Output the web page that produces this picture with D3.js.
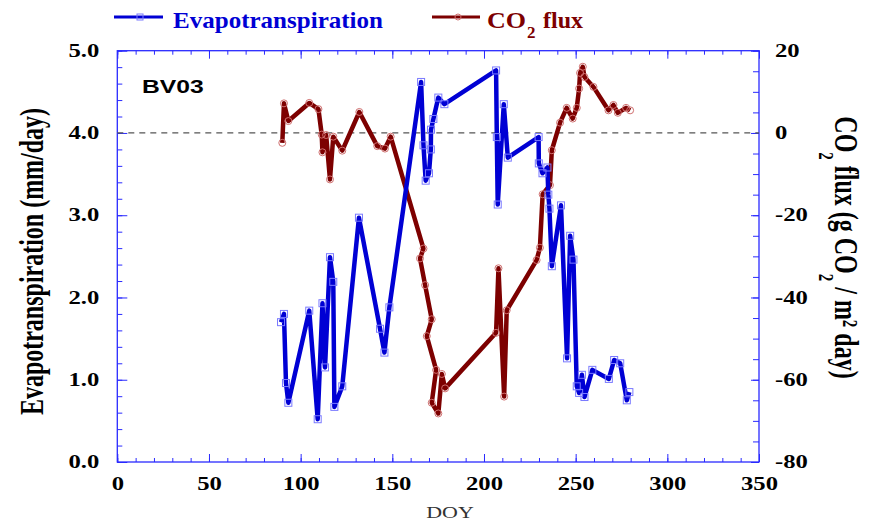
<!DOCTYPE html>
<html lang="en">
<head>
<meta charset="utf-8">
<title>BV03 evapotranspiration and CO2 flux</title>
<script src="https://d3js.org/d3.v7.min.js"></script>
<style>
  body { margin: 0; background: #fff; }
  .tick text { font-family: "Times New Roman", "Liberation Serif", serif; font-weight: bold; font-size: 18px; fill: #000; }
</style>
</head>
<body>
<script>
// ---- data ----
var doyET = [89.3, 90.9, 92, 93.3, 104.7, 109.3, 111.9, 113.3, 116, 117.8, 118.4, 122.7, 131.8,
             143.3, 145.7, 148.4, 165.7, 167, 168.2, 170, 171, 171.1, 172.4, 175.1, 178.4,
             206.6, 207, 207.5, 210.8, 213, 229.8, 229.9, 231.9, 234.6, 235.1, 235.7, 237,
             242, 245.3, 247, 248.8, 250.6, 251.9, 253.4, 254.8, 259.1, 268.1, 271, 274.3, 277.9, 279.3];
var et    = [1.70, 1.80, 0.96, 0.72, 1.84, 0.52, 1.93, 1.15, 2.49, 2.19, 0.67, 0.92, 2.97,
             1.62, 1.33, 1.88, 4.62, 3.85, 3.42, 3.51, 3.80, 4.04, 4.17, 4.43, 4.35,
             4.76, 3.95, 3.13, 4.35, 3.70, 3.95, 3.63, 3.51, 3.58, 3.25, 3.08, 2.38,
             3.12, 1.26, 2.75, 2.46, 0.92, 0.84, 1.06, 0.79, 1.12, 1.01, 1.24, 1.20, 0.75, 0.85];

var doyCO2 = [90, 90.9, 93.3, 104.7, 109.7, 111.5, 111.9, 113.9, 116, 117.8, 122.7, 132, 141.8, 146, 149.1,
              167, 165.1, 167.9, 171.5, 168.8, 173.9, 171.5, 175.1, 177, 178.8,
              206.6, 207.9, 211, 212.4, 228.7, 230.5, 232, 236, 237, 241.5, 245.1, 248.4, 250.6,
              251.9, 252.4, 253.9, 254.8, 259.7, 267.9, 270.6, 273, 277.5, 279.7];
var co2    = [-2.4, 7.2, 2.9, 7.3, 5.8, -0.4, -4.7, -0.5, -11.3, -0.9, -4.3, 5.1, -3.2, -3.8, -0.9,
              -28.1, -30.5, -37, -45.3, -49.4, -57.6, -65.6, -68.2, -58.6, -62.1,
              -48.6, -32.9, -64.1, -43.1, -30.9, -27.9, -14.9, -12.7, -4.2, 2.5, 6.1, 3.5, 6.1,
              10.8, 14.6, 16.1, 13.6, 11.2, 5.5, 6.8, 4.9, 6.1, 5.5];

var xTicks  = [0, 50, 100, 150, 200, 250, 300, 350];
var etTicks = [0, 1, 2, 3, 4, 5];
var coTicks = [-80, -60, -40, -20, 0, 20];

var w = 885, h = 520;
var plotLeft = 117.3, plotRight = 759, plotTop = 50.7, plotBottom = 462;
var stretch = 1.37; // the picture is wider than it is tall, glyphs look stretched
var serif = '"Times New Roman", "Liberation Serif", serif';
var blue = "#0000d4", red = "#7d0000", frame = "#2a2aff";

var svg = d3.select("body").append("svg")
    .attr("width", w).attr("height", h);

var xScale = d3.scaleLinear().domain([0, 350]).range([plotLeft, plotRight]);
var yET = d3.scaleLinear().domain([0, 5]).range([plotBottom, plotTop]);
var yCO = d3.scaleLinear().domain([-80, 20]).range([plotBottom, plotTop]);

// stretch text horizontally like the picture
function widen(sel) {
    sel.each(function() {
        var len = this.getComputedTextLength();
        d3.select(this).attr("textLength", len * stretch).attr("lengthAdjust", "spacingAndGlyphs");
    });
}

// ticks point inward
function axisAt(axis, tr) {
    var g = svg.append("g").attr("transform", tr).call(axis);
    g.select(".domain").remove();
    g.selectAll("line").attr("stroke", frame);
    return g;
}
var atBottom = "translate(0," + plotBottom + ")", atTop = "translate(0," + plotTop + ")";
axisAt(d3.axisBottom(xScale).tickValues(d3.range(0, 351, 10)).tickSizeInner(-4).tickSizeOuter(0).tickFormat(""), atBottom);
axisAt(d3.axisTop(xScale).tickValues(d3.range(0, 351, 10)).tickSizeInner(-4).tickSizeOuter(0).tickFormat(""), atTop);
axisAt(d3.axisTop(xScale).tickValues(xTicks).tickSizeInner(-8).tickSizeOuter(0).tickFormat(""), atTop);
axisAt(d3.axisLeft(yET).tickValues(d3.range(0, 5.01, 0.2)).tickSizeInner(-5).tickSizeOuter(0).tickFormat(""), "translate(" + plotLeft + ",0)");
axisAt(d3.axisRight(yCO).tickValues(d3.range(-80, 21, 5)).tickSizeInner(-6).tickSizeOuter(0).tickFormat(""), "translate(" + plotRight + ",0)");

// labelled axes
var gx = axisAt(d3.axisBottom(xScale).tickValues(xTicks).tickSizeInner(-8).tickSizeOuter(0).tickPadding(15), atBottom);
var gl = axisAt(d3.axisLeft(yET).tickValues(etTicks).tickSizeInner(-10).tickSizeOuter(0).tickPadding(18).tickFormat(d3.format(".1f")), "translate(" + plotLeft + ",0)");
var gr = axisAt(d3.axisRight(yCO).tickValues(coTicks).tickSizeInner(-8).tickSizeOuter(0).tickPadding(16)
        .tickFormat(function(d) { return d < 0 ? "-" + Math.abs(d) : d; }), "translate(" + plotRight + ",0)");
gx.selectAll("text").call(widen);
gl.selectAll("text").call(widen);
gr.selectAll("text").call(widen);

// frame
svg.append("rect")
    .attr("x", plotLeft).attr("y", plotTop)
    .attr("width", plotRight - plotLeft).attr("height", plotBottom - plotTop)
    .attr("fill", "none").attr("stroke", frame).attr("stroke-width", 1.3);

// zero line of CO2 flux (= 4.0 ET)
svg.append("line")
    .attr("x1", plotLeft).attr("x2", plotRight)
    .attr("y1", yCO(0)).attr("y2", yCO(0))
    .attr("stroke", "#555").attr("stroke-width", 1.2).attr("stroke-dasharray", "6,5");

// CO2 flux series
var coData = doyCO2.map(function(d, i) { return [d, co2[i]]; });
svg.append("path").datum(coData)
    .attr("fill", "none").attr("stroke", red).attr("stroke-width", 4.5).attr("stroke-linejoin", "round")
    .attr("d", d3.line().x(function(d) { return xScale(d[0]); }).y(function(d) { return yCO(d[1]); }));
svg.selectAll("circle.co").data(coData).enter().append("circle")
    .attr("class", "co")
    .attr("cx", function(d) { return xScale(d[0]); })
    .attr("cy", function(d) { return yCO(d[1]); })
    .attr("r", 3.5)
    .attr("fill", "none").attr("stroke", "#d07070").attr("stroke-width", 1);

// ET series
var etData = doyET.map(function(d, i) { return [d, et[i]]; });
svg.append("path").datum(etData)
    .attr("fill", "none").attr("stroke", blue).attr("stroke-width", 4.5).attr("stroke-linejoin", "round")
    .attr("d", d3.line().x(function(d) { return xScale(d[0]); }).y(function(d) { return yET(d[1]); }));
svg.selectAll("rect.et").data(etData).enter().append("rect")
    .attr("class", "et")
    .attr("x", function(d) { return xScale(d[0]) - 3.5; })
    .attr("y", function(d) { return yET(d[1]) - 3.5; })
    .attr("width", 7).attr("height", 7)
    .attr("fill", "none").attr("stroke", "#7a7aff").attr("stroke-width", 1);

// site label
svg.append("text").attr("x", 142).attr("y", 93)
    .attr("font-family", "Arial, 'Liberation Sans', sans-serif").attr("font-weight", "bold").attr("font-size", 18)
    .text("BV03").call(widen);

// x title
svg.append("text").attr("x", 450).attr("y", 518).attr("text-anchor", "middle")
    .attr("font-family", serif).attr("font-size", 16).attr("fill", "#333")
    .text("DOY").call(widen);

// left title
svg.append("text")
    .attr("transform", "translate(43,261.5) rotate(-90) scale(1," + stretch + ")")
    .attr("text-anchor", "middle")
    .attr("font-family", serif).attr("font-weight", "bold").attr("font-size", 24)
    .text("Evapotranspiration (mm/day)");

// right title
var rt = svg.append("text")
    .attr("transform", "translate(835,247.5) rotate(90) scale(1," + stretch + ")")
    .attr("text-anchor", "middle")
    .attr("font-family", serif).attr("font-weight", "bold").attr("font-size", 24);
rt.append("tspan").text("CO");
rt.append("tspan").attr("dy", 12).attr("font-size", 15).text("2");
rt.append("tspan").attr("dy", -12).text(" flux (g CO");
rt.append("tspan").attr("dy", 12).attr("font-size", 15).text("2");
rt.append("tspan").attr("dy", -12).text(" / m");
rt.append("tspan").attr("dy", -6).attr("font-size", 15).text("2");
rt.append("tspan").attr("dy", 6).text(" day)");

// legend
svg.append("line").attr("x1", 114).attr("x2", 163).attr("y1", 17).attr("y2", 17)
    .attr("stroke", blue).attr("stroke-width", 3);
svg.append("rect").attr("x", 137).attr("y", 14).attr("width", 6).attr("height", 6)
    .attr("fill", "none").attr("stroke", "#7a7aff").attr("stroke-width", 1);
svg.append("text").attr("x", 173).attr("y", 28)
    .attr("font-family", serif).attr("font-weight", "bold").attr("font-size", 23).attr("fill", blue)
    .attr("textLength", 210).attr("lengthAdjust", "spacingAndGlyphs")
    .text("Evapotranspiration");

svg.append("line").attr("x1", 432).attr("x2", 480).attr("y1", 17).attr("y2", 17)
    .attr("stroke", red).attr("stroke-width", 3);
svg.append("circle").attr("cx", 458).attr("cy", 17).attr("r", 3)
    .attr("fill", "none").attr("stroke", "#d07070").attr("stroke-width", 1);
svg.append("text").attr("x", 487).attr("y", 28)
    .attr("font-family", serif).attr("font-weight", "bold").attr("font-size", 23).attr("fill", red)
    .attr("textLength", 39).attr("lengthAdjust", "spacingAndGlyphs").text("CO");
svg.append("text").attr("x", 527).attr("y", 38)
    .attr("font-family", serif).attr("font-weight", "bold").attr("font-size", 17).attr("fill", red)
    .text("2");
svg.append("text").attr("x", 543).attr("y", 28)
    .attr("font-family", serif).attr("font-weight", "bold").attr("font-size", 23).attr("fill", red)
    .attr("textLength", 40).attr("lengthAdjust", "spacingAndGlyphs").text("flux");
</script>
</body>
</html>
